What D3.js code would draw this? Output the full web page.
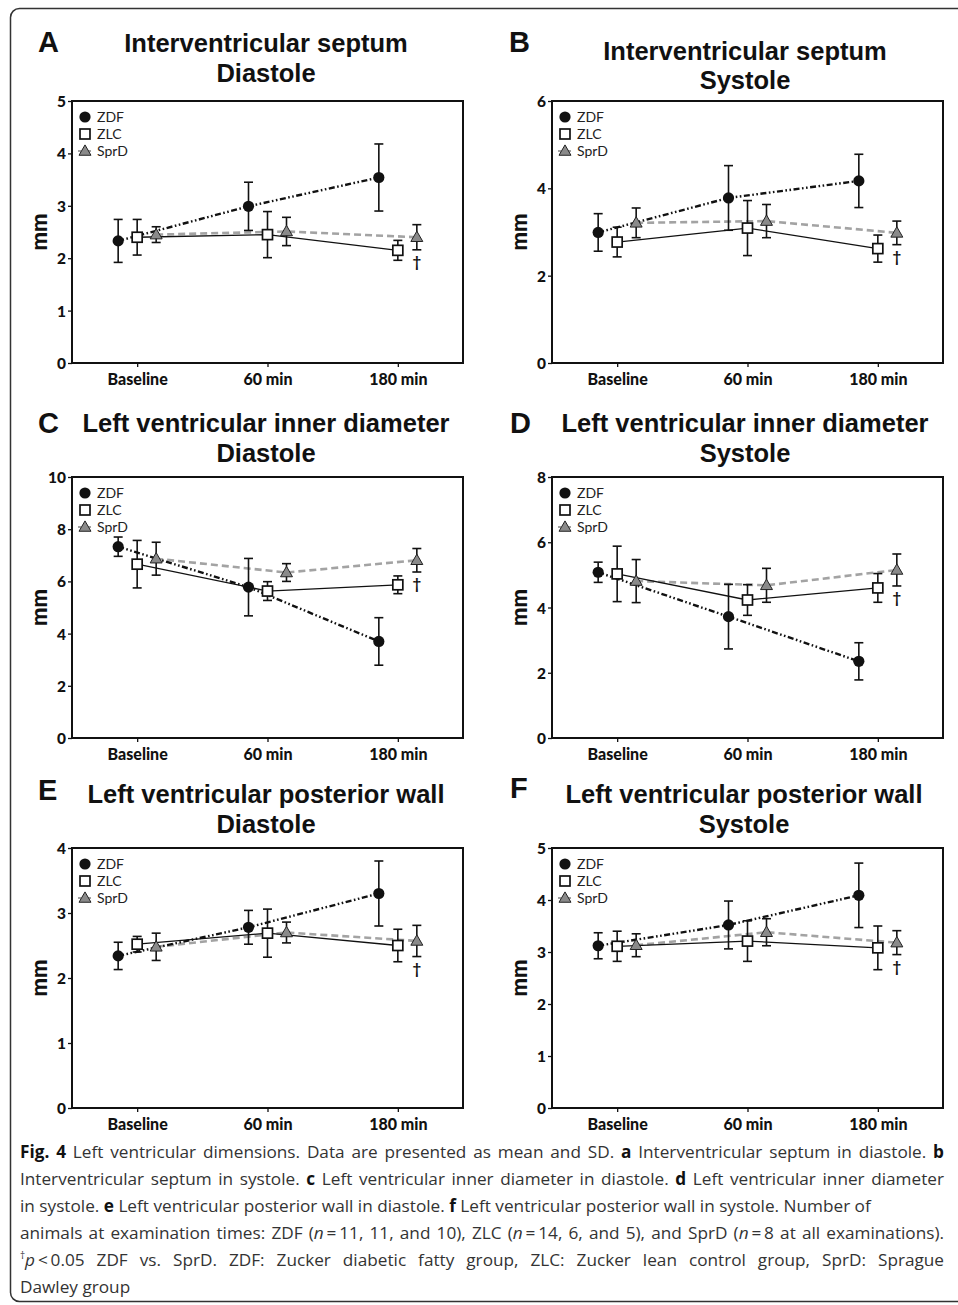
<!DOCTYPE html>
<meta charset="utf-8">
<script src="https://d3js.org/d3.v7.min.js"></script>
<style>
  body { margin: 0; background: #fff; }
  svg { display: block; }
</style>
<div id="fig"></div>
<script>
  // ---- data ----
  const timepoints = ["Baseline", "60 min", "180 min"];
  const groups = ["ZDF", "ZLC", "SprD"];
  const letters = ["A", "B", "C", "D", "E", "F"];
  const titles = [
    ["Interventricular septum", "Diastole"],
    ["Interventricular septum", "Systole"],
    ["Left ventricular inner diameter", "Diastole"],
    ["Left ventricular inner diameter", "Systole"],
    ["Left ventricular posterior wall", "Diastole"],
    ["Left ventricular posterior wall", "Systole"]
  ];
  const yMax = [5, 6, 10, 8, 4, 5];
  const yStep = [1, 2, 2, 2, 1, 1];

  // mean per group (ZDF, ZLC, SprD) x timepoint
  const meanA = [[2.33, 2.99, 3.54], [2.40, 2.45, 2.15], [2.45, 2.51, 2.40]];
  const sdA   = [[0.41, 0.46, 0.64], [0.34, 0.44, 0.19], [0.15, 0.27, 0.24]];
  const meanB = [[2.99, 3.78, 4.17], [2.77, 3.09, 2.62], [3.21, 3.25, 2.98]];
  const sdB   = [[0.43, 0.74, 0.61], [0.34, 0.63, 0.31], [0.34, 0.38, 0.27]];
  const meanC = [[7.33, 5.78, 3.70], [6.66, 5.63, 5.87], [6.87, 6.34, 6.81]];
  const sdC   = [[0.37, 1.10, 0.91], [0.91, 0.36, 0.34], [0.63, 0.34, 0.45]];
  const meanD = [[5.08, 3.72, 2.35], [5.03, 4.23, 4.60], [4.81, 4.68, 5.15]];
  const sdD   = [[0.31, 0.99, 0.57], [0.85, 0.47, 0.44], [0.66, 0.52, 0.49]];
  const meanE = [[2.34, 2.78, 3.30], [2.52, 2.69, 2.50], [2.48, 2.70, 2.57]];
  const sdE   = [[0.21, 0.26, 0.50], [0.12, 0.37, 0.25], [0.21, 0.16, 0.24]];
  const meanF = [[3.12, 3.52, 4.09], [3.11, 3.21, 3.08], [3.13, 3.38, 3.18]];
  const sdF   = [[0.25, 0.46, 0.62], [0.29, 0.39, 0.42], [0.22, 0.26, 0.23]];
  const means = [meanA, meanB, meanC, meanD, meanE, meanF];
  const sds = [sdA, sdB, sdC, sdD, sdE, sdF];

  // caption lines: [text, style] segments; b = bold, i = italic, s = superscript
  const caption = [
    { justify: true, seg: [["Fig. 4", "b"], [" Left ventricular dimensions. Data are presented as mean and SD. ", ""], ["a", "b"], [" Interventricular septum in diastole. ", ""], ["b", "b"]] },
    { justify: true, seg: [["Interventricular septum in systole. ", ""], ["c", "b"], [" Left ventricular inner diameter in diastole. ", ""], ["d", "b"], [" Left ventricular inner diameter", ""]] },
    { justify: false, seg: [["in systole. ", ""], ["e", "b"], [" Left ventricular posterior wall in diastole. ", ""], ["f", "b"], [" Left ventricular posterior wall in systole. Number of", ""]] },
    { justify: true, seg: [["animals at examination times: ZDF (", ""], ["n", "i"], ["\u2009=\u200911, 11, and 10), ZLC (", ""], ["n", "i"], ["\u2009=\u200914, 6, and 5), and SprD (", ""], ["n", "i"], ["\u2009=\u20098 at all examinations).", ""]] },
    { justify: true, seg: [["†", "s"], ["p", "i"], ["\u2009<\u20090.05 ZDF vs. SprD. ZDF: Zucker diabetic fatty group, ZLC: Zucker lean control group, SprD: Sprague", ""]] },
    { justify: false, seg: [["Dawley group", ""]] }
  ];

  // ---- layout ----
  const W = 958, H = 1305;
  const colX = [0, 480];
  const rowTop = [101, 477, 848], rowBottom = [363, 738, 1108];
  const plotLeft = 72, plotW = 391;
  const titleLayout = [
    { lx: 38, ly: 52, cx: 266, y1: 52, y2: 82 },
    { lx: 29, ly: 52, cx: 265, y1: 60, y2: 89 },
    { lx: 38, ly: 433, cx: 266, y1: 432, y2: 462 },
    { lx: 30, ly: 433, cx: 265, y1: 432, y2: 462 },
    { lx: 38, ly: 800, cx: 266, y1: 803, y2: 833 },
    { lx: 30, ly: 798, cx: 264, y1: 803, y2: 833 }
  ];
  const style = {
    ZDF: { stroke: "#111", width: 2.4, dash: "6,2.5,1.6,2.5,1.6,2.5" },
    ZLC: { stroke: "#111", width: 1.3, dash: null },
    SprD: { stroke: "#a3a3a3", width: 2.6, dash: "7,4" }
  };
  const labelFont = "Lato, 'Open Sans', sans-serif";
  const titleFont = "'Liberation Sans', Arial, sans-serif";

  const svg = d3.select("#fig").append("svg")
    .attr("width", W).attr("height", H);

  // outer rounded frame
  svg.append("rect")
    .attr("x", 10.5).attr("y", 8.5)
    .attr("width", 1000).attr("height", 1293)
    .attr("rx", 9)
    .attr("fill", "none").attr("stroke", "#333").attr("stroke-width", 1.5);

  const groupOffset = d3.scalePoint().domain(groups).range([-19, 19]);

  function marker(g, grp, x, y) {
    if (grp === "ZDF") {
      g.append("circle").attr("cx", x).attr("cy", y).attr("r", 5.6).attr("fill", "#111");
    } else if (grp === "ZLC") {
      g.append("rect").attr("x", x - 5).attr("y", y - 5).attr("width", 10).attr("height", 10)
        .attr("fill", "#fff").attr("stroke", "#111").attr("stroke-width", 1.7);
    } else {
      g.append("path").attr("d", d3.symbol(d3.symbolTriangle, 62)())
        .attr("transform", `translate(${x},${y + 0.8})`)
        .attr("fill", "#8a8a8a").attr("stroke", "#222").attr("stroke-width", 1);
    }
  }

  letters.forEach((letter, p) => {
    const col = p % 2, row = Math.floor(p / 2);
    const ox = colX[col];
    const top = rowTop[row], bottom = rowBottom[row];
    const g = svg.append("g").attr("transform", `translate(${ox},0)`);
    const tl = titleLayout[p];

    // titles
    g.append("text").attr("x", tl.lx).attr("y", tl.ly).text(letter)
      .attr("font-family", titleFont).attr("font-weight", "bold").attr("font-size", 29).attr("fill", "#111");
    g.append("text").attr("x", tl.cx).attr("y", tl.y1).text(titles[p][0])
      .attr("text-anchor", "middle")
      .attr("font-family", titleFont).attr("font-weight", "bold").attr("font-size", 25.5).attr("fill", "#111");
    g.append("text").attr("x", tl.cx).attr("y", tl.y2).text(titles[p][1])
      .attr("text-anchor", "middle")
      .attr("font-family", titleFont).attr("font-weight", "bold").attr("font-size", 25.5).attr("fill", "#111");

    const x = d3.scalePoint().domain(timepoints).range([plotLeft, plotLeft + plotW]).padding(0.5);
    const y = d3.scaleLinear().domain([0, yMax[p]]).range([bottom, top]);

    // axes
    const yAxis = g.append("g").attr("transform", `translate(${plotLeft},0)`)
      .call(d3.axisLeft(y).tickValues(d3.range(0, yMax[p] + 0.001, yStep[p])).tickSize(4).tickPadding(2).tickFormat(d3.format("d")));
    const xAxis = g.append("g").attr("transform", `translate(0,${bottom})`)
      .call(d3.axisBottom(x).tickSize(4).tickPadding(6));
    [yAxis, xAxis].forEach(a => {
      a.select(".domain").remove();
      a.selectAll("line").attr("stroke", "#111").attr("stroke-width", 1.3);
      a.selectAll("text").attr("font-family", labelFont).attr("font-weight", "900").attr("fill", "#111");
    });
    yAxis.selectAll("text").attr("font-size", 15.5).attr("dy", "0.36em");
    xAxis.selectAll("text").attr("font-size", 16).attr("dy", "0.75em");

    // plot frame
    g.append("rect").attr("x", plotLeft).attr("y", top)
      .attr("width", plotW).attr("height", bottom - top)
      .attr("fill", "none").attr("stroke", "#111").attr("stroke-width", 2);

    // y label
    g.append("text")
      .attr("transform", `translate(${plotLeft - 25},${(top + bottom) / 2}) rotate(-90)`)
      .attr("text-anchor", "middle").text("mm")
      .attr("font-family", labelFont).attr("font-weight", "900").attr("font-size", 22).attr("fill", "#111");

    // series lines (drawn under markers)
    const order = ["SprD", "ZLC", "ZDF"];
    order.forEach(grp => {
      const gi = groups.indexOf(grp);
      const pts = timepoints.map((t, i) => [x(t) + groupOffset(grp), y(means[p][gi][i])]);
      g.append("path").attr("d", d3.line()(pts))
        .attr("fill", "none").attr("stroke", style[grp].stroke)
        .attr("stroke-width", style[grp].width)
        .attr("stroke-dasharray", style[grp].dash);
    });

    // error bars + markers
    groups.forEach((grp, gi) => {
      timepoints.forEach((t, i) => {
        const cx = x(t) + groupOffset(grp);
        const m = means[p][gi][i], s = sds[p][gi][i];
        const eb = g.append("g").attr("stroke", "#111").attr("stroke-width", 1.6);
        eb.append("line").attr("x1", cx).attr("x2", cx).attr("y1", y(m + s)).attr("y2", y(m - s));
        eb.append("line").attr("x1", cx - 4.5).attr("x2", cx + 4.5).attr("y1", y(m + s)).attr("y2", y(m + s));
        eb.append("line").attr("x1", cx - 4.5).attr("x2", cx + 4.5).attr("y1", y(m - s)).attr("y2", y(m - s));
        marker(g, grp, cx, y(m));
      });
    });

    // dagger below SprD at 180 min
    const gi = groups.indexOf("SprD");
    g.append("text")
      .attr("x", x("180 min") + groupOffset("SprD"))
      .attr("y", y(means[p][gi][2] - sds[p][gi][2]) + 17)
      .attr("text-anchor", "middle").text("†")
      .attr("font-family", labelFont).attr("font-weight", "bold").attr("font-size", 15).attr("fill", "#111");

    // legend
    const lg = g.append("g").attr("transform", `translate(${plotLeft},${top})`);
    groups.forEach((grp, k) => {
      const ly = 16 + k * 17;
      if (grp === "SprD") {
        lg.append("line").attr("x1", 6).attr("x2", 20).attr("y1", ly).attr("y2", ly)
          .attr("stroke", style.SprD.stroke).attr("stroke-width", 2).attr("stroke-dasharray", "3,2");
      }
      marker(lg, grp, 13, ly);
      lg.append("text").attr("x", 25).attr("y", ly).attr("dy", "0.36em").text(grp)
        .attr("font-family", labelFont).attr("font-size", 14).attr("fill", "#222");
    });
  });

  // caption
  const capLeft = 20, capRight = 944;
  caption.forEach((line, i) => {
    const t = svg.append("text")
      .attr("x", capLeft).attr("y", 1158 + i * 27)
      .attr("font-family", "'Open Sans', sans-serif").attr("font-size", 17.2).attr("fill", "#333");
    line.seg.forEach(([txt, st]) => {
      const ts = t.append("tspan").text(txt);
      if (st === "b") ts.attr("font-weight", "bold").attr("fill", "#111");
      if (st === "i") ts.attr("font-style", "italic");
      if (st === "s") ts.attr("font-size", 10).attr("dy", -7);
      if (st === "i" && txt === "p") ts.attr("dy", 7);
    });
    if (line.justify) {
      const natural = t.node().getComputedTextLength();
      const spaces = line.seg.map(s => s[0]).join("").split(" ").length - 1;
      t.attr("word-spacing", (capRight - capLeft - natural) / spaces);
    }
  });
</script>
